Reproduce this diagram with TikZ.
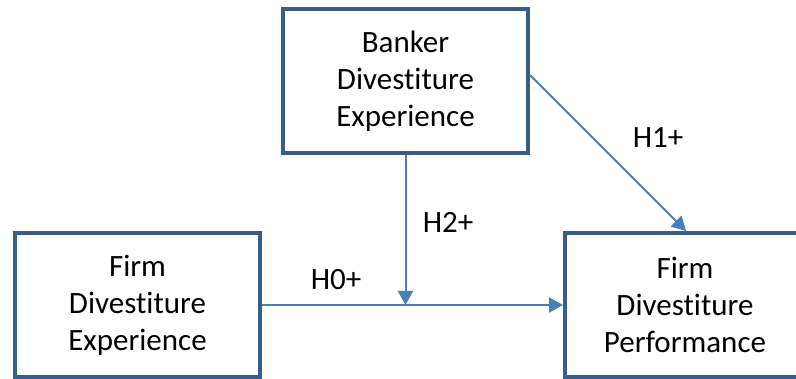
\documentclass[tikz,border=0pt]{standalone}
\usepackage{fontspec}
\setmainfont[Ligatures=NoCommon]{Carlito}
\usetikzlibrary{arrows.meta}
\definecolor{boxblue}{RGB}{56,93,138}
\definecolor{arrowblue}{RGB}{74,126,187}
\tikzset{
    varbox/.style={draw=boxblue, line width=4pt, fill=white, align=center,
        minimum width=245pt, minimum height=144pt, inner sep=0pt,
        font=\fontsize{31}{37}\selectfont},
    link/.style={draw=arrowblue, line width=2pt,
        -{Triangle[length=14pt,width=15pt]}},
    hyp/.style={font=\fontsize{31}{37}\selectfont, inner sep=0pt}
}
\begin{document}
\begin{tikzpicture}[x=1pt,y=-1pt]
    \useasboundingbox (0,0) rectangle (796,379);
    \clip (0,0) rectangle (796,379);

    \node[varbox] (bde) at (405.5,81) {Banker\\Divestiture\\Experience};
    \node[varbox] (fde) at (137.5,305) {Firm\\Divestiture\\Experience};
    \node[varbox, minimum width=240pt] (fdp) at (685,305) {Firm\\Divestiture\\Performance};

    \coordinate (mod) at (bde.south |- fde.east);

    \draw[link] ([yshift=6pt]bde.east) -- ([xshift=1pt]fdp.north);
    \draw[link] (bde.south) -- (mod);
    \draw[link] (fde.east) -- (fdp.west);

    \node[hyp] (h0) at (336,280) {H0+};
    \node[hyp] (h2) at (448,222) {H2+};
    \node[hyp] (h1) at (658,138) {H1+};

\end{tikzpicture}
\end{document}
